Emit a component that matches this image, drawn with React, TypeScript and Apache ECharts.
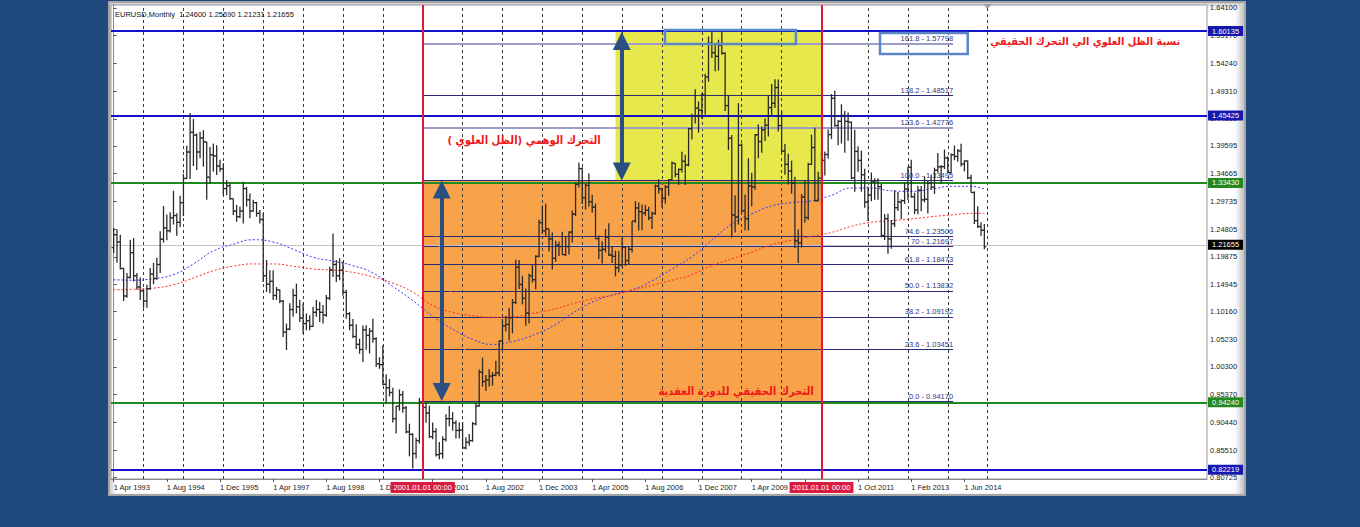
import React, { useEffect, useRef } from "react";
import * as echarts from "echarts";

// ---------------- data ----------------
// monthly bars: [open, high, low, close]
const bars1993 = [
  [1.215, 1.25, 1.205, 1.238], [1.238, 1.247, 1.188, 1.225], [1.225, 1.238, 1.176, 1.178],
  [1.178, 1.179, 1.12, 1.129], [1.129, 1.17, 1.126, 1.162], [1.162, 1.229, 1.16, 1.206],
  [1.206, 1.232, 1.155, 1.165], [1.165, 1.17, 1.14, 1.145], [1.145, 1.162, 1.122, 1.138],
];
const bars1994 = [
  [1.138, 1.142, 1.108, 1.12], [1.12, 1.149, 1.108, 1.142], [1.142, 1.179, 1.14, 1.168],
  [1.168, 1.188, 1.15, 1.16], [1.16, 1.197, 1.158, 1.185], [1.185, 1.244, 1.17, 1.23],
  [1.23, 1.289, 1.224, 1.25], [1.25, 1.274, 1.228, 1.245], [1.245, 1.278, 1.242, 1.268],
  [1.268, 1.316, 1.256, 1.272], [1.272, 1.276, 1.236, 1.26], [1.26, 1.307, 1.251, 1.295],
];
const bars1995 = [
  [1.295, 1.346, 1.271, 1.338], [1.338, 1.396, 1.337, 1.385], [1.385, 1.4543, 1.337, 1.42],
  [1.42, 1.4436, 1.36, 1.415], [1.415, 1.418, 1.353, 1.385], [1.385, 1.421, 1.374, 1.41],
  [1.41, 1.424, 1.359, 1.403], [1.403, 1.403, 1.3, 1.34], [1.34, 1.394, 1.329, 1.38],
  [1.38, 1.4, 1.35, 1.378], [1.378, 1.397, 1.344, 1.36], [1.36, 1.371, 1.35, 1.355],
];
const bars1996 = [
  [1.355, 1.365, 1.308, 1.32], [1.32, 1.335, 1.308, 1.325], [1.325, 1.329, 1.3, 1.302],
  [1.302, 1.302, 1.273, 1.28], [1.28, 1.291, 1.261, 1.27], [1.27, 1.288, 1.267, 1.28],
  [1.28, 1.332, 1.258, 1.32], [1.32, 1.323, 1.288, 1.3], [1.3, 1.311, 1.267, 1.28],
  [1.28, 1.3, 1.279, 1.295], [1.295, 1.296, 1.27, 1.276], [1.276, 1.282, 1.258, 1.265],
];
const bars1997 = [
  [1.265, 1.276, 1.154, 1.165], [1.165, 1.193, 1.136, 1.15], [1.15, 1.175, 1.134, 1.155],
  [1.155, 1.175, 1.122, 1.13], [1.13, 1.145, 1.122, 1.14], [1.14, 1.14, 1.116, 1.12],
  [1.12, 1.122, 1.056, 1.065], [1.065, 1.08, 1.033, 1.07], [1.07, 1.116, 1.068, 1.105],
  [1.105, 1.142, 1.092, 1.13], [1.13, 1.151, 1.098, 1.11], [1.11, 1.122, 1.083, 1.09],
];
const bars1998 = [
  [1.09, 1.116, 1.062, 1.08], [1.08, 1.098, 1.068, 1.085], [1.085, 1.095, 1.068, 1.075],
  [1.075, 1.11, 1.074, 1.1], [1.1, 1.122, 1.092, 1.105], [1.105, 1.119, 1.083, 1.1],
  [1.1, 1.113, 1.08, 1.095], [1.095, 1.131, 1.092, 1.125], [1.125, 1.181, 1.122, 1.175],
  [1.175, 1.24, 1.163, 1.185], [1.185, 1.193, 1.154, 1.165], [1.165, 1.196, 1.157, 1.175],
];
const bars1999 = [
  [1.175, 1.1904, 1.1294, 1.1355], [1.1355, 1.14, 1.0885, 1.0975], [1.0975, 1.1005, 1.068, 1.077],
  [1.077, 1.088, 1.0545, 1.057], [1.057, 1.079, 1.035, 1.043], [1.043, 1.053, 1.0265, 1.034],
  [1.034, 1.0765, 1.0115, 1.069], [1.069, 1.077, 1.0335, 1.059], [1.059, 1.072, 1.027, 1.0665],
  [1.0665, 1.0885, 1.046, 1.053], [1.053, 1.0555, 1.003, 1.0085], [1.0085, 1.02, 0.9995, 1.007],
];
const bars2000 = [
  [1.007, 1.0415, 0.9705, 0.972], [0.972, 0.99, 0.939, 0.966], [0.966, 0.9815, 0.9505, 0.9575],
  [0.9575, 0.966, 0.904, 0.911], [0.911, 0.9335, 0.8845, 0.933], [0.933, 0.963, 0.925, 0.9535],
  [0.9535, 0.96, 0.9215, 0.93], [0.93, 0.9335, 0.8845, 0.8875], [0.8875, 0.902, 0.844, 0.883],
  [0.883, 0.885, 0.8225, 0.849], [0.849, 0.877, 0.84, 0.872], [0.872, 0.948, 0.8665, 0.941],
];
const bars2001 = [
  [0.941, 0.9595, 0.9085, 0.931], [0.931, 0.9395, 0.9035, 0.921], [0.921, 0.934, 0.8765, 0.879],
  [0.879, 0.904, 0.8745, 0.888], [0.888, 0.894, 0.8435, 0.847], [0.847, 0.8695, 0.839, 0.849],
  [0.849, 0.8795, 0.8395, 0.874], [0.874, 0.919, 0.8705, 0.911], [0.911, 0.9335, 0.8975, 0.911],
  [0.911, 0.9225, 0.8895, 0.9035], [0.9035, 0.908, 0.8755, 0.89], [0.89, 0.9045, 0.8755, 0.8905],
];
const bars2002 = [
  [0.8905, 0.905, 0.858, 0.859], [0.859, 0.878, 0.8565, 0.869], [0.869, 0.8835, 0.863, 0.872],
  [0.872, 0.905, 0.87, 0.902], [0.902, 0.939, 0.899, 0.9335], [0.9335, 0.9985, 0.932, 0.9935],
  [0.9935, 1.0195, 0.968, 0.977], [0.977, 0.9885, 0.96, 0.98], [0.98, 0.999, 0.968, 0.9865],
  [0.9865, 0.994, 0.9695, 0.988], [0.988, 1.014, 0.9865, 0.9925], [0.9925, 1.05, 0.9865, 1.049],
];
const bars2003 = [
  [1.049, 1.088, 1.0335, 1.076], [1.076, 1.0935, 1.066, 1.0785], [1.0785, 1.108, 1.05, 1.0905],
  [1.0905, 1.1235, 1.0625, 1.1175], [1.1175, 1.1935, 1.115, 1.18], [1.18, 1.193, 1.1415, 1.1495],
  [1.1495, 1.165, 1.114, 1.125], [1.125, 1.1425, 1.076, 1.0985], [1.0985, 1.169, 1.08, 1.165],
  [1.165, 1.184, 1.153, 1.158], [1.158, 1.2015, 1.141, 1.1995], [1.1995, 1.2645, 1.1975, 1.2595],
];
const bars2004 = [
  [1.2595, 1.29, 1.2395, 1.245], [1.245, 1.293, 1.236, 1.2485], [1.2485, 1.2485, 1.208, 1.2305],
  [1.2305, 1.242, 1.176, 1.196], [1.196, 1.2275, 1.19, 1.2195], [1.2195, 1.226, 1.2, 1.217],
  [1.217, 1.243, 1.2025, 1.2025], [1.2025, 1.2345, 1.2, 1.217], [1.217, 1.244, 1.203, 1.2425],
  [1.2425, 1.281, 1.224, 1.2745], [1.2745, 1.33, 1.271, 1.3275], [1.3275, 1.3665, 1.322, 1.3555],
];
const bars2005 = [
  [1.3555, 1.358, 1.2925, 1.3035], [1.3035, 1.329, 1.2825, 1.3255], [1.3255, 1.347, 1.2875, 1.2965],
  [1.2965, 1.309, 1.277, 1.287], [1.287, 1.2935, 1.2305, 1.231], [1.231, 1.2365, 1.195, 1.21],
  [1.21, 1.226, 1.187, 1.212], [1.212, 1.248, 1.2065, 1.2335], [1.2335, 1.2585, 1.2, 1.202],
  [1.202, 1.217, 1.1875, 1.1995], [1.1995, 1.2095, 1.164, 1.179], [1.179, 1.2095, 1.171, 1.1845],
];
const bars2006 = [
  [1.1845, 1.2325, 1.18, 1.216], [1.216, 1.2165, 1.1825, 1.192], [1.192, 1.2175, 1.186, 1.212],
  [1.212, 1.2625, 1.2065, 1.2625], [1.2625, 1.298, 1.259, 1.2855], [1.2855, 1.295, 1.2455, 1.279],
  [1.279, 1.2915, 1.246, 1.2765], [1.2765, 1.291, 1.2715, 1.2815], [1.2815, 1.2875, 1.2635, 1.268],
  [1.268, 1.279, 1.248, 1.2755], [1.2755, 1.327, 1.2735, 1.3245], [1.3245, 1.3365, 1.311, 1.3195],
];
const bars2007 = [
  [1.3195, 1.32, 1.2865, 1.3025], [1.3025, 1.3265, 1.293, 1.323], [1.323, 1.337, 1.307, 1.3355],
  [1.3355, 1.368, 1.3335, 1.365], [1.365, 1.3655, 1.34, 1.3455], [1.3455, 1.3555, 1.3265, 1.354],
  [1.354, 1.3855, 1.3485, 1.3685], [1.3685, 1.38, 1.3265, 1.362], [1.362, 1.428, 1.3595, 1.4265],
  [1.4265, 1.453, 1.407, 1.4485], [1.4485, 1.4965, 1.4355, 1.463], [1.463, 1.475, 1.4195, 1.459],
];
const bars2008 = [
  [1.459, 1.49, 1.444, 1.4865], [1.4865, 1.524, 1.451, 1.5185], [1.5185, 1.5905, 1.51, 1.5785],
  [1.5785, 1.6013, 1.552, 1.5615], [1.5615, 1.5785, 1.5285, 1.555], [1.555, 1.5845, 1.5295, 1.575],
  [1.575, 1.6013, 1.558, 1.5605], [1.5605, 1.5625, 1.458, 1.4675], [1.4675, 1.4865, 1.3885, 1.4095],
  [1.4095, 1.415, 1.233, 1.273], [1.273, 1.308, 1.242, 1.2695], [1.2695, 1.472, 1.256, 1.397],
];
const bars2009 = [
  [1.397, 1.4, 1.2765, 1.2805], [1.2805, 1.3095, 1.2455, 1.2665], [1.2665, 1.374, 1.2455, 1.325],
  [1.325, 1.348, 1.2885, 1.323], [1.323, 1.417, 1.318, 1.4155], [1.4155, 1.434, 1.374, 1.4035],
  [1.4035, 1.4305, 1.3835, 1.4245], [1.4245, 1.4445, 1.4045, 1.4325], [1.4325, 1.4845, 1.4125, 1.464],
  [1.464, 1.506, 1.448, 1.4715], [1.4715, 1.5145, 1.463, 1.4995], [1.4995, 1.514, 1.4215, 1.432],
];
const bars2010 = [
  [1.432, 1.458, 1.3835, 1.3865], [1.3865, 1.399, 1.3445, 1.363], [1.363, 1.382, 1.327, 1.351],
  [1.351, 1.3695, 1.311, 1.3295], [1.3295, 1.341, 1.2145, 1.227], [1.227, 1.247, 1.1875, 1.2235],
  [1.2235, 1.3105, 1.215, 1.305], [1.305, 1.3335, 1.259, 1.2685], [1.2685, 1.366, 1.264, 1.363],
  [1.363, 1.416, 1.362, 1.393], [1.393, 1.428, 1.297, 1.2985], [1.2985, 1.35, 1.297, 1.3385],
];
// 14 bars are shown for 2011 in the source history
const bars2011 = [
  [1.3385, 1.3865, 1.287, 1.37], [1.37, 1.386, 1.343, 1.3805], [1.3805, 1.425, 1.373, 1.416],
  [1.416, 1.488, 1.408, 1.4805], [1.4805, 1.494, 1.43, 1.432], [1.432, 1.442, 1.397, 1.4395],
  [1.4395, 1.47, 1.4, 1.45], [1.45, 1.458, 1.3835, 1.4395], [1.4395, 1.455, 1.405, 1.438],
  [1.438, 1.439, 1.3365, 1.339], [1.339, 1.4245, 1.3145, 1.386], [1.386, 1.395, 1.35, 1.37],
  [1.37, 1.3875, 1.3145, 1.3445], [1.3445, 1.355, 1.286, 1.296],
];
const bars2012 = [
  [1.296, 1.3235, 1.2625, 1.3085], [1.3085, 1.3485, 1.2975, 1.332], [1.332, 1.3385, 1.3, 1.334],
  [1.334, 1.3385, 1.3, 1.3235], [1.3235, 1.3285, 1.2335, 1.2365], [1.2365, 1.2745, 1.2285, 1.2665],
  [1.2665, 1.275, 1.204, 1.2305], [1.2305, 1.264, 1.213, 1.2575], [1.2575, 1.317, 1.2515, 1.286],
  [1.286, 1.314, 1.28, 1.296], [1.296, 1.301, 1.266, 1.2985], [1.2985, 1.331, 1.2925, 1.319],
];
const bars2013 = [
  [1.319, 1.3585, 1.2995, 1.358], [1.358, 1.371, 1.3035, 1.3055], [1.3055, 1.3125, 1.2745, 1.282],
  [1.282, 1.3245, 1.2745, 1.317], [1.317, 1.3245, 1.2795, 1.3], [1.3, 1.3415, 1.2955, 1.301],
  [1.301, 1.3345, 1.2755, 1.33], [1.33, 1.345, 1.3185, 1.3225], [1.3225, 1.357, 1.3105, 1.3525],
  [1.3525, 1.383, 1.348, 1.3585], [1.3585, 1.362, 1.3295, 1.359], [1.359, 1.3895, 1.3545, 1.3745],
];
const bars2014 = [
  [1.3745, 1.3775, 1.348, 1.3485], [1.3485, 1.3825, 1.3475, 1.38], [1.38, 1.3965, 1.3705, 1.377],
  [1.377, 1.3905, 1.3675, 1.387], [1.387, 1.3995, 1.359, 1.3635], [1.3635, 1.37, 1.3505, 1.369],
  [1.369, 1.37, 1.3365, 1.339], [1.339, 1.3445, 1.313, 1.313], [1.313, 1.315, 1.257, 1.263],
  [1.263, 1.2885, 1.25, 1.2525], [1.2525, 1.26, 1.2355, 1.246], [1.246, 1.2569, 1.21231, 1.21655],
];
const allBars = [
  ...bars1993, ...bars1994, ...bars1995, ...bars1996, ...bars1997, ...bars1998, ...bars1999,
  ...bars2000, ...bars2001, ...bars2002, ...bars2003, ...bars2004, ...bars2005, ...bars2006,
  ...bars2007, ...bars2008, ...bars2009, ...bars2010, ...bars2011, ...bars2012, ...bars2013,
  ...bars2014,
];

const xLabelIdx = [0, 16, 32, 48, 64, 80, 96, 112, 128, 144, 160, 176, 192, 208, 224, 240, 256];
const xLabelText = [
  "1 Apr 1993", "1 Aug 1994", "1 Dec 1995", "1 Apr 1997", "1 Aug 1998", "1 Dec 1999",
  "1 Apr 2001", "1 Aug 2002", "1 Dec 2003", "1 Apr 2005", "1 Aug 2006", "1 Dec 2007",
  "1 Apr 2009", "1 Aug 2010", "1 Oct 2011", "1 Feb 2013", "1 Jun 2014",
];
const yearStartIdx = [9, 21, 33, 45, 57, 69, 81, 93, 105, 117, 129, 141, 153, 165, 177, 189, 201, 213, 227, 239, 251, 263];
const yTickValues = [
  1.641, 1.5917, 1.5424, 1.4931, 1.4438, 1.39595, 1.34665, 1.29735, 1.24805, 1.19875,
  1.14945, 1.1016, 1.0523, 1.003, 0.9537, 0.9044, 0.8551, 0.80725,
];

const maIdx = [0, 6, 12, 18, 24, 30, 36, 42, 48, 54, 60, 66, 72, 78, 84, 90, 96, 102, 108, 114, 120, 126, 132, 138, 144, 150, 156, 162, 168, 174, 180, 186, 192, 198, 204, 210, 216, 222, 228, 234, 240, 246, 252, 258, 262];
const fastMA = [1.158, 1.157, 1.16, 1.167, 1.186, 1.209, 1.221, 1.229, 1.225, 1.212, 1.198, 1.191, 1.183, 1.17, 1.146, 1.121, 1.093, 1.07, 1.052, 1.043, 1.048, 1.059, 1.075, 1.098, 1.118, 1.131, 1.14, 1.156, 1.177, 1.199, 1.228, 1.257, 1.275, 1.289, 1.295, 1.298, 1.308, 1.321, 1.321, 1.316, 1.315, 1.319, 1.324, 1.324, 1.319];
const slowMA = [1.14, 1.141, 1.143, 1.149, 1.161, 1.174, 1.182, 1.186, 1.186, 1.182, 1.177, 1.175, 1.171, 1.163, 1.152, 1.136, 1.112, 1.1, 1.094, 1.091, 1.092, 1.098, 1.105, 1.115, 1.124, 1.13, 1.139, 1.148, 1.157, 1.167, 1.183, 1.195, 1.207, 1.22, 1.228, 1.235, 1.242, 1.253, 1.26, 1.263, 1.266, 1.27, 1.273, 1.276, 1.276];

const fibRatio = ["0.0", "23.6", "38.2", "50.0", "61.8", "70", "74.6", "100.0", "123.6", "138.2", "161.8"];
const fibPrice = [0.9417, 1.03451, 1.09192, 1.13832, 1.18473, 1.21697, 1.23506, 1.33495, 1.42776, 1.48517, 1.57798];
const levelPrice = [1.60135, 1.45425, 1.3343, 1.21655, 0.9424, 0.82219];
const cycleIdx = [93, 213];
const cycleText = ["2001.01.01 00:00", "2011.01.01 00:00"];
const cycleLow = 0.9424;
const cycleHigh = 1.3343;
const shadowTop = 1.60135;
const headerText = "EURUSD,Monthly  1.24600 1.25690 1.21231 1.21655";
const noteText = [
  "نسبة الظل العلوي الي التحرك الحقيقي",
  "التحرك الوهمي (الظل العلوي )",
  "التحرك الحقيقي للدورة العقدية",
];

// ---------------- layout / style (annotation anchors in data units) ----------------
const X_MIN = -0.8;
const X_MAX = 329;
const FIB_END = 252.6;
const SHADOW_START = 151;
const FIB_DIAG = [[93, 1.33495], [109.5, 0.9417]];
const ARROWS = [
  { x: 98.7, from: 0.9584, to: 1.3183 },
  { x: 152.9, from: 1.3503, to: 1.5823 },
];
const BOXES = [
  [165.9, 1.6019, 205.3, 1.577],
  [230.6, 1.5965, 257.0, 1.5592],
];
const NOTE_POS = [
  [320.9, 1.5811],
  [123.5, 1.4063],
  [187.3, 0.9599],
];
const NOTE_ALIGN = ["right", "center", "center"];
const NOTE_SIZE = [10.9, 11.2, 11.2];
const FONT = "'Liberation Sans', Arial, sans-serif";
const AR_FONT = "'DejaVu Sans Condensed', 'DejaVu Sans', sans-serif";
const levelLineColor = ["#1212c8", "#1212c8", "#1f8b1f", "#c4c4c4", "#1f8b1f", "#1212c8"];
const levelLineWidth = [2, 2, 2, 1, 2, 2];
const levelBg = ["#1616b0", "#1616b0", "#23881f", "#000000", "#23881f", "#1616b0"];
const fibLineColor = ["#2a2a78", "#2a2a78", "#2a2a78", "#2a2a78", "#2a2a78", "#2a2a78", "#2a2a78", "#2a2a78", "#9c9cc6", "#2a2a78", "#9c9cc6"];
const fibLineWidth = [1, 1, 1, 1, 1, 1, 1, 1, 2, 1, 2];

function buildOption() {
  const carrier = (z: number, extra: any) => ({
    type: "line",
    data: [],
    z,
    silent: true,
    clip: false,
    ...extra,
  });

  const series: any[] = [
    // 0 zones
    carrier(1, {
      markArea: {
        z: 1,
        silent: true,
        label: { show: false },
        data: [
          [
            { coord: [cycleIdx[0], cycleHigh], itemStyle: { color: "#f8a34a" } },
            { coord: [cycleIdx[1], cycleLow] },
          ],
          [
            { coord: [SHADOW_START, shadowTop], itemStyle: { color: "#e7e84b" } },
            { coord: [cycleIdx[1], cycleHigh] },
          ],
        ],
      },
    }),
    // 1 year separators
    carrier(2, {
      markLine: {
        z: 2,
        silent: true,
        symbol: "none",
        label: { show: false },
        lineStyle: { color: "#3a3a3a", type: [3, 3], width: 1 },
        data: yearStartIdx.map((v) => ({ xAxis: v })),
      },
    }),
    // 2 fibonacci levels
    carrier(3, {
      markLine: {
        z: 3,
        silent: true,
        symbol: "none",
        data: [
          ...fibPrice.map((p, k) => [
            {
              coord: [cycleIdx[0], p],
              lineStyle: { color: fibLineColor[k], width: fibLineWidth[k], type: "solid" },
              label: {
                show: true,
                position: "insideEndTop",
                distance: [0, 1],
                formatter: fibRatio[k] + " - " + p.toFixed(5),
                color: "#34348a",
                fontSize: 7.5,
                fontFamily: FONT,
              },
            },
            { coord: [FIB_END, p] },
          ]),
          [
            {
              coord: FIB_DIAG[0],
              lineStyle: { color: "#eba785", width: 1, type: "dotted" },
              label: { show: false },
            },
            { coord: FIB_DIAG[1] },
          ],
        ],
      },
    }),
    // 3 price levels
    carrier(3, {
      markLine: {
        z: 3,
        silent: true,
        symbol: "none",
        data: levelPrice.map((p, k) => ({
          yAxis: p,
          lineStyle: { color: levelLineColor[k], width: levelLineWidth[k], type: "solid" },
          label: {
            show: true,
            position: "end",
            distance: 1,
            formatter: p.toFixed(5),
            backgroundColor: levelBg[k],
            color: "#ffffff",
            padding: [1, 4, 0, 4],
            lineHeight: 9,
            fontSize: 7.5,
            fontFamily: FONT,
          },
        })),
      },
    }),
    // 4 fast MA
    {
      type: "line",
      name: "fastMA",
      z: 4,
      silent: true,
      smooth: true,
      showSymbol: false,
      data: maIdx.map((x, k) => [x, fastMA[k]]),
      lineStyle: { color: "#3535ff", width: 1, type: [2, 2] },
    },
    // 5 slow MA
    {
      type: "line",
      name: "slowMA",
      z: 4,
      silent: true,
      smooth: true,
      showSymbol: false,
      data: maIdx.map((x, k) => [x, slowMA[k]]),
      lineStyle: { color: "#ff2b2b", width: 1, type: [2, 2] },
    },
    // 6 OHLC bars
    {
      type: "custom",
      name: "EURUSD",
      z: 5,
      silent: true,
      data: allBars.map((b, i) => [i, b[0], b[1], b[2], b[3]]),
      encode: { x: 0, y: [1, 2, 3, 4] },
      renderItem: (params: any, api: any) => {
        const i = api.value(0);
        const o = api.coord([i, api.value(1)]);
        const h = api.coord([i, api.value(2)]);
        const l = api.coord([i, api.value(3)]);
        const c = api.coord([i, api.value(4)]);
        const st = { stroke: "#2a2a2a", lineWidth: 1.3 };
        return {
          type: "group",
          children: [
            { type: "line", shape: { x1: h[0], y1: h[1], x2: l[0], y2: l[1] }, style: st },
            { type: "line", shape: { x1: o[0] - 2, y1: o[1], x2: o[0], y2: o[1] }, style: st },
            { type: "line", shape: { x1: c[0], y1: c[1], x2: c[0] + 2, y2: c[1] }, style: st },
          ],
        };
      },
    },
    // 7 cycle vertical lines
    carrier(6, {
      markLine: {
        z: 6,
        silent: true,
        symbol: "none",
        lineStyle: { color: "#e3173e", width: 2, type: "solid" },
        label: {
          show: true,
          position: "start",
          distance: 3,
          backgroundColor: "#d81b3f",
          color: "#ffffff",
          padding: [1, 3, 1, 3],
          lineHeight: 9,
          fontSize: 7.5,
          fontFamily: FONT,
        },
        data: cycleIdx.map((v, k) => ({ xAxis: v, label: { formatter: cycleText[k] } })),
      },
    }),
    // 8 annotations: arrows, boxes, notes
    carrier(7, {
      markLine: {
        z: 7,
        silent: true,
        symbol: ["triangle", "triangle"],
        symbolSize: [18, 18],
        lineStyle: { color: "#2b4f81", width: 4, type: "solid" },
        itemStyle: { color: "#2b4f81" },
        label: { show: false },
        data: ARROWS.map((a) => [{ coord: [a.x, a.from] }, { coord: [a.x, a.to] }]),
      },
      markArea: {
        z: 7,
        silent: true,
        label: { show: false },
        itemStyle: { color: "rgba(0,0,0,0)", borderColor: "#5b87c8", borderWidth: 2.5 },
        data: BOXES.map((b) => [{ coord: [b[0], b[1]] }, { coord: [b[2], b[3]] }]),
      },
      markPoint: {
        z: 8,
        silent: true,
        symbol: "circle",
        symbolSize: 1,
        itemStyle: { color: "rgba(0,0,0,0)" },
        data: noteText.map((t, k) => ({
          coord: NOTE_POS[k],
          label: {
            show: true,
            position: "inside",
            align: NOTE_ALIGN[k],
            verticalAlign: "middle",
            formatter: "\u200F" + t + "\u200F",
            color: "#f01818",
            fontSize: NOTE_SIZE[k],
            fontWeight: "bold",
            fontFamily: AR_FONT,
          },
        })),
      },
    }),
  ];

  return {
    animation: false,
    backgroundColor: "transparent",
    title: {
      text: headerText,
      left: 115,
      top: 10,
      padding: 0,
      textStyle: { fontSize: 7.5, fontWeight: "normal", color: "#111", fontFamily: FONT },
    },
    grid: {
      left: 111,
      right: 153,
      top: 5,
      bottom: 48,
      show: true,
      backgroundColor: "#ffffff",
      borderColor: "#9a9a9a",
      borderWidth: 1,
    },
    visualMap: [
      {
        type: "piecewise",
        show: false,
        seriesIndex: 4,
        dimension: 0,
        pieces: [
          { lt: cycleIdx[0], color: "#3535ff" },
          { gte: cycleIdx[0], lte: cycleIdx[1], color: "#2a2a2a" },
          { gt: cycleIdx[1], color: "#3535ff" },
        ],
      },
    ],
    xAxis: {
      type: "value",
      min: X_MIN,
      max: X_MAX,
      axisLine: { show: true, lineStyle: { color: "#8a8a8a" } },
      axisTick: { show: true, length: 3, customValues: xLabelIdx, lineStyle: { color: "#555" } },
      axisLabel: {
        customValues: xLabelIdx,
        formatter: (v: number) => {
          const k = xLabelIdx.indexOf(Math.round(v));
          return k >= 0 ? xLabelText[k] : "";
        },
        align: "left",
        margin: 4,
        fontSize: 7.5,
        color: "#222",
        fontFamily: FONT,
      },
      splitLine: { show: false },
    },
    yAxis: {
      type: "value",
      position: "right",
      min: 0.8037,
      max: 1.6463,
      axisLine: { show: true, lineStyle: { color: "#8a8a8a" } },
      axisTick: { show: true, length: 3, customValues: yTickValues, lineStyle: { color: "#555" } },
      axisLabel: {
        customValues: yTickValues,
        formatter: (v: number) => v.toFixed(5),
        fontSize: 7.5,
        color: "#222",
        margin: 3,
        fontFamily: FONT,
      },
      splitLine: { show: false },
    },
    graphic: [
      {
        type: "polygon",
        silent: true,
        shape: { points: [[983, 4], [992, 4], [987.5, 9]] },
        style: { fill: "#a0a0a0" },
      },
    ],
    series,
  };
}

export default function App() {
  const ref = useRef<HTMLDivElement>(null);
  useEffect(() => {
    if (!ref.current) return;
    const chart = echarts.init(ref.current, undefined, { renderer: "svg" });
    chart.setOption(buildOption() as any);
    return () => chart.dispose();
  }, []);
  return (
    <div
      style={{
        position: "fixed",
        left: 0,
        top: 0,
        width: 1360,
        height: 527,
        background: "#1f497d",
        overflow: "hidden",
      }}
    >
      <div
        style={{
          position: "absolute",
          left: 108,
          top: 1,
          width: 1138,
          height: 495,
          boxSizing: "border-box",
          background: "#ffffff",
          border: "2px solid #a4a4a4",
          boxShadow: "inset 3px 3px 4px #cfcfcf, inset -7px 0 6px -3px #bdbdbd",
        }}
      />
      <div ref={ref} style={{ position: "absolute", left: 0, top: 0, width: 1360, height: 527 }} />
    </div>
  );
}
